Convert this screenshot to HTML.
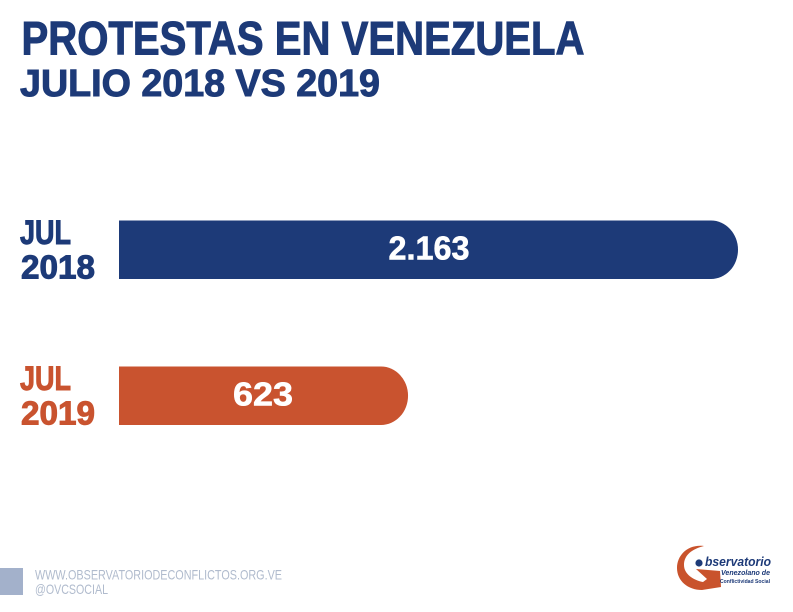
<!DOCTYPE html>
<html lang="es">
<head>
<meta charset="utf-8">
<title>Protestas en Venezuela</title>
<style>
html,body{margin:0;padding:0;background:#fff;width:793px;height:612px;overflow:hidden}
svg{display:block}
text{font-family:"Liberation Sans",sans-serif}
.hd{font-weight:700;fill:#1d3a78;stroke:#1d3a78;stroke-width:1}
.lb{font-weight:700;stroke-width:1}
.val{font-weight:700;fill:#fff;stroke:#fff;stroke-width:.6;text-anchor:middle}
.ft{fill:#b0bbcd;font-size:14px}
.lg{font-weight:700;fill:#1d3a78}
</style>
</head>
<body>
<svg id="chart" width="793" height="612" viewBox="0 0 793 612" xmlns="http://www.w3.org/2000/svg">
  <rect x="0" y="0" width="793" height="612" fill="#fff"/>
  <text class="hd" x="21.5" y="54.5" font-size="47" textLength="563" lengthAdjust="spacingAndGlyphs">PROTESTAS EN VENEZUELA</text>
  <text class="hd" x="20" y="96" font-size="38" textLength="360" lengthAdjust="spacingAndGlyphs">JULIO 2018 VS 2019</text>
  <g id="bars"></g>
  <rect x="0" y="568" width="23" height="27" fill="#a3b1cb"/>
  <text class="ft" x="35" y="579.5" textLength="247" lengthAdjust="spacingAndGlyphs">WWW.OBSERVATORIODECONFLICTOS.ORG.VE</text>
  <text class="ft" x="35" y="594" textLength="73" lengthAdjust="spacingAndGlyphs">@OVCSOCIAL</text>
  <g>
    <path d="M704 546 C688 544 677 555 677 568 C677 581 688 590 702 590 L721 587 L720 571 L696 569 L707 579 L703 582 C693 580 684 574 684 565 C684 555 692 549 704 546 Z" fill="#c9532c"/>
    <circle cx="699" cy="563" r="3.6" fill="#1d3a78"/>
    <text class="lg" x="705" y="566" font-size="12.5" font-style="italic" textLength="66" lengthAdjust="spacingAndGlyphs">bservatorio</text>
    <text class="lg" x="721" y="575" font-size="7" font-style="italic" textLength="49" lengthAdjust="spacingAndGlyphs">Venezolano de</text>
    <text class="lg" x="720" y="583" font-size="5.5" textLength="50" lengthAdjust="spacingAndGlyphs">Conflictividad Social</text>
  </g>
</svg>
<script>
const categories = ["JUL|2018", "JUL|2019"];
const seriesValues = [2163, 623];
const valueLabels = ["2.163", "623"];
const seriesColors = ["#1d3a78", "#c9532f"];

const xBaseline = 119;
const xDomainMin = -726;
const xDomainMax = 2163;
const xRangeMax = 738;
function xScale(v) {
  return xBaseline + (v - xDomainMin) / (xDomainMax - xDomainMin) * (xRangeMax - xBaseline);
}
const bandStart = 220.5;
const bandStep = 146;
function yScale(i) {
  return bandStart + i * bandStep;
}
const barHeight = 58.5;
const radius = 27;
const NS = "http://www.w3.org/2000/svg";
const group = document.getElementById("bars");

categories.forEach(function (cat, i) {
  const y = yScale(i);
  const xEnd = xScale(seriesValues[i]);
  const color = seriesColors[i];
  const parts = cat.split("|");

  const bar = document.createElementNS(NS, "path");
  
  
  bar.setAttribute("d", "M" + xBaseline + " " + y + "H" + (xEnd - radius) +
    "A" + radius + " " + (barHeight / 2) + " 0 0 1 " + (xEnd - radius) + " " + (y + barHeight) +
    "H" + xBaseline + "Z");
  bar.setAttribute("fill", color);
  group.appendChild(bar);

  const month = document.createElementNS(NS, "text");
  
  
  month.setAttribute("class", "lb");
  month.setAttribute("x", 20);
  month.setAttribute("y", y + 23.5);
  month.setAttribute("font-size", 34);
  month.setAttribute("fill", color);
  month.setAttribute("stroke", color);
  month.setAttribute("textLength", 51);
  month.setAttribute("lengthAdjust", "spacingAndGlyphs");
  month.textContent = parts[0];
  group.appendChild(month);

  const year = document.createElementNS(NS, "text");
  
  
  year.setAttribute("class", "lb");
  year.setAttribute("x", 21);
  year.setAttribute("y", y + 58);
  year.setAttribute("font-size", 33);
  year.setAttribute("fill", color);
  year.setAttribute("stroke", color);
  year.setAttribute("textLength", 74);
  year.setAttribute("lengthAdjust", "spacingAndGlyphs");
  year.textContent = parts[1];
  group.appendChild(year);

  const val = document.createElementNS(NS, "text");
  
  
  val.setAttribute("class", "val");
  val.setAttribute("x", (xBaseline + xEnd) / 2 + (i === 0 ? 0.5 : -0.5));
  val.setAttribute("y", y + 39);
  val.setAttribute("font-size", 33);
  val.setAttribute("textLength", i === 0 ? 81 : 60);
  val.setAttribute("lengthAdjust", "spacingAndGlyphs");
  val.textContent = valueLabels[i];
  group.appendChild(val);
});
</script>
</body>
</html>
